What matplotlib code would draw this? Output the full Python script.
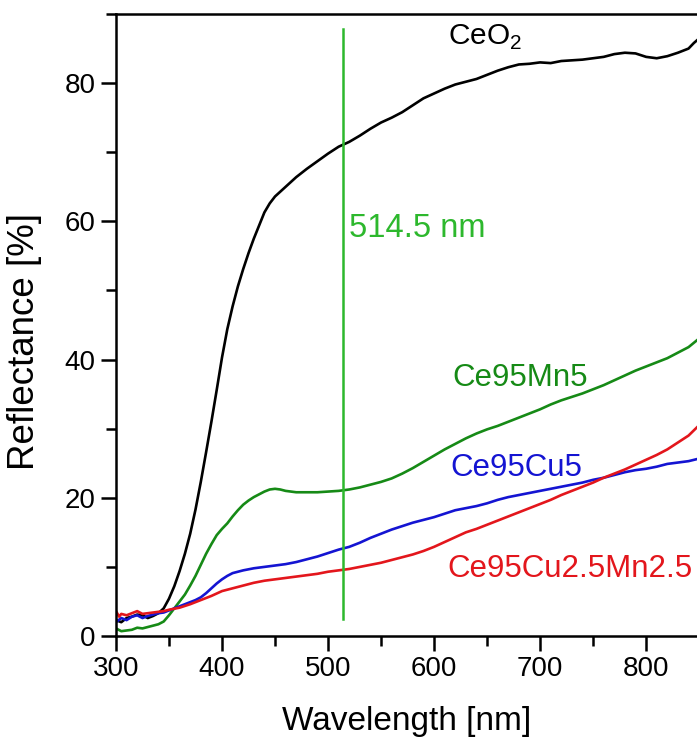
import matplotlib
matplotlib.use("Agg")
import matplotlib.pyplot as plt
from matplotlib.ticker import MultipleLocator

plt.rcParams['font.family'] = ['Liberation Sans', 'DejaVu Sans']
plt.rcParams['mathtext.fontset'] = 'custom'
plt.rcParams['mathtext.rm'] = 'Liberation Sans'

# Diffuse reflectance spectra (wavelength in nm, reflectance in %)
wl_ceo2 = [300, 305, 310, 315, 320, 325, 330, 335, 340, 345, 350, 355, 360, 365, 370, 375,
           380, 385, 390, 395, 400, 405, 410, 415, 420, 425, 430, 435, 440, 445, 450, 460,
           470, 480, 490, 500, 510, 520, 530, 540, 550, 560, 570, 580, 590, 600, 610, 620,
           630, 640, 650, 660, 670, 680, 690, 700, 710, 720, 730, 740, 750, 760, 770, 780,
           790, 800, 810, 820, 830, 840, 845, 848]
r_ceo2 = [2.3, 2.0, 2.6, 2.8, 3.1, 3.0, 2.6, 2.9, 3.3, 4.0, 5.4, 7.2, 9.4, 11.9, 14.8, 18.3,
          22.3, 26.6, 31.0, 35.6, 40.3, 44.4, 47.7, 50.6, 53.1, 55.4, 57.5, 59.4, 61.3, 62.6, 63.6, 65.0,
          66.4, 67.6, 68.7, 69.8, 70.8, 71.5, 72.4, 73.4, 74.3, 75.0, 75.8, 76.8, 77.8, 78.5, 79.2, 79.8,
          80.2, 80.6, 81.2, 81.8, 82.3, 82.7, 82.8, 83.0, 82.9, 83.2, 83.3, 83.4, 83.6, 83.8, 84.2, 84.4,
          84.3, 83.8, 83.6, 83.9, 84.4, 85.0, 85.8, 86.2]

wl_mn5 = [300, 305, 310, 315, 320, 325, 330, 335, 340, 345, 350, 355, 360, 365, 370, 375,
          380, 385, 390, 395, 400, 405, 410, 415, 420, 425, 430, 435, 440, 445, 450, 455,
          460, 470, 480, 490, 500, 510, 520, 530, 540, 550, 560, 570, 580, 590, 600, 610,
          620, 630, 640, 650, 660, 670, 680, 690, 700, 710, 720, 730, 740, 750, 760, 770,
          780, 790, 800, 810, 820, 830, 840, 848]
r_mn5 = [1.1, 0.7, 0.8, 0.9, 1.2, 1.1, 1.3, 1.5, 1.7, 2.1, 3.0, 4.0, 5.0, 6.0, 7.3, 8.7,
         10.3, 11.9, 13.3, 14.6, 15.5, 16.3, 17.3, 18.2, 19.0, 19.6, 20.1, 20.5, 20.9, 21.2, 21.3, 21.2,
         21.0, 20.8, 20.8, 20.8, 20.9, 21.0, 21.2, 21.5, 21.9, 22.3, 22.8, 23.5, 24.3, 25.2, 26.1, 27.0,
         27.8, 28.6, 29.3, 29.9, 30.4, 31.0, 31.6, 32.2, 32.8, 33.5, 34.1, 34.6, 35.1, 35.7, 36.3, 37.0,
         37.7, 38.4, 39.0, 39.6, 40.2, 41.0, 41.8, 42.8]

wl_cu5 = [300, 305, 310, 315, 320, 325, 330, 335, 340, 345, 350, 355, 360, 365, 370, 375,
          380, 385, 390, 395, 400, 405, 410, 420, 430, 440, 450, 460, 470, 480, 490, 500,
          510, 520, 530, 540, 550, 560, 570, 580, 590, 600, 610, 620, 630, 640, 650, 660,
          670, 680, 690, 700, 710, 720, 730, 740, 750, 760, 770, 780, 790, 800, 810, 820,
          830, 840, 848]
r_cu5 = [2.0, 2.6, 2.3, 2.8, 3.0, 2.6, 2.9, 3.1, 3.3, 3.4, 3.7, 4.0, 4.3, 4.6, 4.9, 5.2,
         5.6, 6.2, 6.9, 7.6, 8.2, 8.7, 9.1, 9.5, 9.8, 10.0, 10.2, 10.4, 10.7, 11.1, 11.5, 12.0,
         12.5, 12.9, 13.5, 14.2, 14.8, 15.4, 15.9, 16.4, 16.8, 17.2, 17.7, 18.2, 18.5, 18.8, 19.2, 19.7,
         20.1, 20.4, 20.7, 21.0, 21.3, 21.6, 21.9, 22.2, 22.6, 22.9, 23.3, 23.7, 24.0, 24.2, 24.5, 24.9,
         25.1, 25.3, 25.6]

wl_cumn = [300, 303, 305, 310, 315, 320, 325, 330, 335, 340, 345, 350, 360, 370, 380, 390,
           400, 410, 420, 430, 440, 450, 460, 470, 480, 490, 500, 510, 520, 530, 540, 550,
           560, 570, 580, 590, 600, 610, 620, 630, 640, 650, 660, 670, 680, 690, 700, 710,
           720, 730, 740, 750, 760, 770, 780, 790, 800, 810, 820, 830, 840, 848]
r_cumn = [3.6, 2.8, 3.2, 3.0, 3.3, 3.6, 3.2, 3.3, 3.4, 3.5, 3.6, 3.8, 4.1, 4.6, 5.2, 5.8,
          6.5, 6.9, 7.3, 7.7, 8.0, 8.2, 8.4, 8.6, 8.8, 9.0, 9.3, 9.5, 9.7, 10.0, 10.3, 10.6,
          11.0, 11.4, 11.8, 12.3, 12.9, 13.6, 14.3, 15.0, 15.5, 16.1, 16.7, 17.3, 17.9, 18.5, 19.1, 19.7,
          20.4, 21.0, 21.6, 22.2, 22.9, 23.5, 24.1, 24.8, 25.5, 26.2, 27.0, 28.0, 29.0, 30.2]

laser_wl = 514.5
laser_span = [2.5, 87.8]

fig = plt.figure(figsize=(6.97, 7.38), dpi=100)
ax = fig.add_axes([0.1664, 0.1382, 1.0 - 0.1664, 0.981 - 0.1382])

lw = 1.9
ax.plot(wl_ceo2, r_ceo2, color='black', lw=lw)
ax.plot(wl_mn5, r_mn5, color='#168a16', lw=lw)
ax.plot(wl_cu5, r_cu5, color='#1414d2', lw=lw)
ax.plot(wl_cumn, r_cumn, color='#e3161c', lw=lw)
ax.plot([laser_wl, laser_wl], laser_span, color='#2db82d', lw=1.8)

ax.text(519.5, 59, '514.5 nm', color='#2db82d', fontsize=23.5, va='center', ha='left')
ax.text(613, 86.6, r'CeO$_2$', color='black', fontsize=21.5, va='center', ha='left')
ax.text(617, 37.3, 'Ce95Mn5', color='#168a16', fontsize=22.5, va='center', ha='left')
ax.text(615, 24.3, 'Ce95Cu5', color='#1414d2', fontsize=22.5, va='center', ha='left')
ax.text(613, 9.7, 'Ce95Cu2.5Mn2.5', color='#e3161c', fontsize=22.5, va='center', ha='left')

ax.set_xlim(300, 848)
ax.set_ylim(0, 90)
ax.xaxis.set_major_locator(MultipleLocator(100))
ax.xaxis.set_minor_locator(MultipleLocator(50))
ax.yaxis.set_major_locator(MultipleLocator(20))
ax.yaxis.set_minor_locator(MultipleLocator(10))
ax.tick_params(which='major', direction='out', length=11, width=1.8, labelsize=20)
ax.tick_params(which='minor', direction='out', length=7, width=1.8)
ax.spines['right'].set_visible(False)
for s in ('left', 'bottom', 'top'):
    ax.spines[s].set_linewidth(1.8)

ax.set_xlabel('Wavelength [nm]', fontsize=24, labelpad=17)
ax.set_ylabel('Reflectance [%]', fontsize=26.5)
ax.yaxis.set_label_coords(-0.127, 0.474)

fig.savefig('out.png', dpi=100)
